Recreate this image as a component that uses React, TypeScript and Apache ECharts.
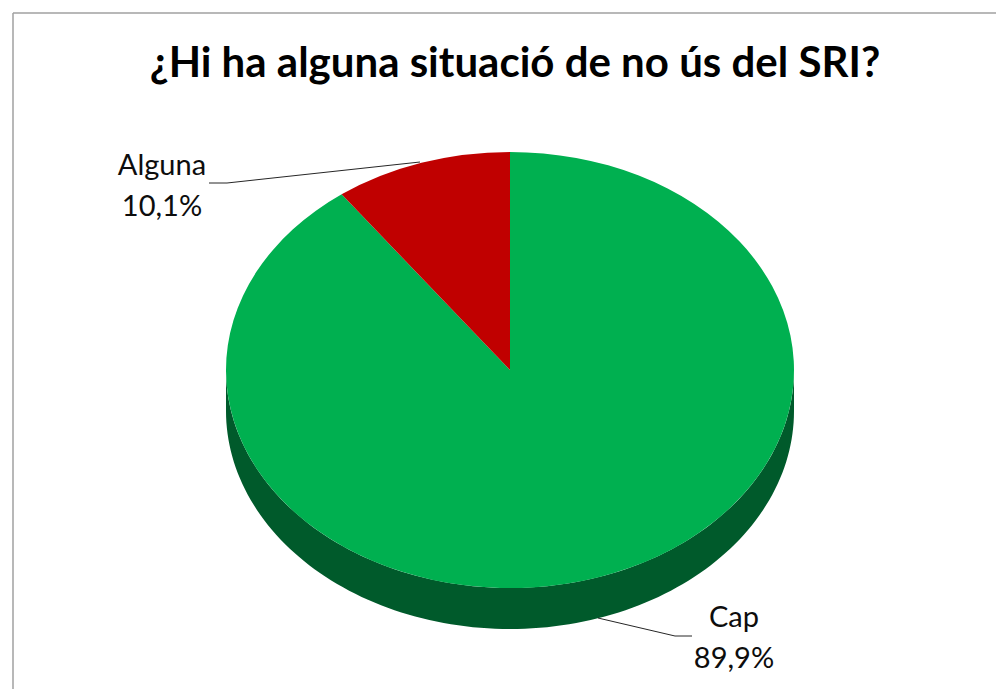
import React, { useEffect, useRef } from "react";
import * as echarts from "echarts";

const titleText = "¿Hi ha alguna situació de no ús del SRI?";
const categories = ["Cap", "Alguna"];
const values = [89.9, 10.1];
const topColors = ["#00B050", "#C00000"];
const sideColors = ["#005A2B", "#7A0000"];

const CX = 510, CY = 370, RX = 284, RY = 218, DEPTH = 41;
const labelLayouts = [
  { x: 734, y: 615, line: [[598, 618], [675, 636], [692, 636]] },
  { x: 162, y: 163, line: [[209, 183], [227, 183], [420, 162]] },
];
const FONT = "Lato, 'Noto Sans', sans-serif";

const fmt = (v: number) => v.toFixed(1).replace(".", ",") + "%";

function renderItem(params: any, api: any) {
  const i = params.dataIndex;
  const total = values.reduce((a, b) => a + b, 0);
  const before = values.slice(0, i).reduce((a, b) => a + b, 0);
  const v = api.value(0) as number;
  const start = -Math.PI / 2 + (before / total) * Math.PI * 2;
  const end = start + (v / total) * Math.PI * 2;
  const children: any[] = [];

  const a0 = Math.max(start, 0);
  const a1 = Math.min(end, Math.PI);
  if (a1 > a0) {
    const pts: number[][] = [];
    const n = 120;
    for (let k = 0; k <= n; k++) {
      const t = a0 + ((a1 - a0) * k) / n;
      pts.push([CX + RX * Math.cos(t), CY + RY * Math.sin(t)]);
    }
    for (let k = n; k >= 0; k--) {
      const t = a0 + ((a1 - a0) * k) / n;
      pts.push([CX + RX * Math.cos(t), CY + DEPTH + RY * Math.sin(t)]);
    }
    children.push({ type: "polygon", shape: { points: pts }, style: { fill: sideColors[i] } });
  }
  children.push({
    type: "sector",
    x: CX,
    y: CY,
    scaleY: RY / RX,
    shape: { cx: 0, cy: 0, r: RX, r0: 0, startAngle: start, endAngle: end, clockwise: true },
    style: { fill: topColors[i] },
  });
  const lay = labelLayouts[i];
  children.push({
    type: "polyline",
    shape: { points: lay.line },
    style: { fill: "none", stroke: "#262626", lineWidth: 1 },
  });
  children.push({
    type: "text",
    style: { text: categories[i], x: lay.x, y: lay.y, align: "center", verticalAlign: "middle", fontSize: 29, fontFamily: FONT, fill: "#0d0d0d" },
  });
  children.push({
    type: "text",
    style: { text: fmt(v), x: lay.x, y: lay.y + 41, align: "center", verticalAlign: "middle", fontSize: 29, fontFamily: FONT, fill: "#0d0d0d" },
  });
  return { type: "group", children };
}

export default function App() {
  const ref = useRef<HTMLDivElement>(null);
  useEffect(() => {
    const chart = echarts.init(ref.current!, undefined, { renderer: "svg" });
    chart.setOption({
      animation: false,
      backgroundColor: "#ffffff",
      title: {
        text: titleText,
        left: 510,
        top: 35,
        textAlign: "center",
        textStyle: { fontFamily: FONT, fontWeight: "bold", fontSize: 42, color: "#000000" },
      },
      graphic: [
        { type: "line", shape: { x1: 13, y1: 13, x2: 996, y2: 13 }, style: { stroke: "#A0A0A0", lineWidth: 1.5 } },
        { type: "line", shape: { x1: 13, y1: 13, x2: 13, y2: 689 }, style: { stroke: "#A0A0A0", lineWidth: 1.5 } },
      ],
      series: [
        {
          type: "custom",
          coordinateSystem: "none",
          renderItem,
          silent: true,
          data: values.map((v, i) => ({ name: categories[i], value: [v] })),
        },
      ],
    });
    return () => chart.dispose();
  }, []);
  return <div ref={ref} style={{ position: "absolute", left: 0, top: 0, width: 996, height: 689 }} />;
}
